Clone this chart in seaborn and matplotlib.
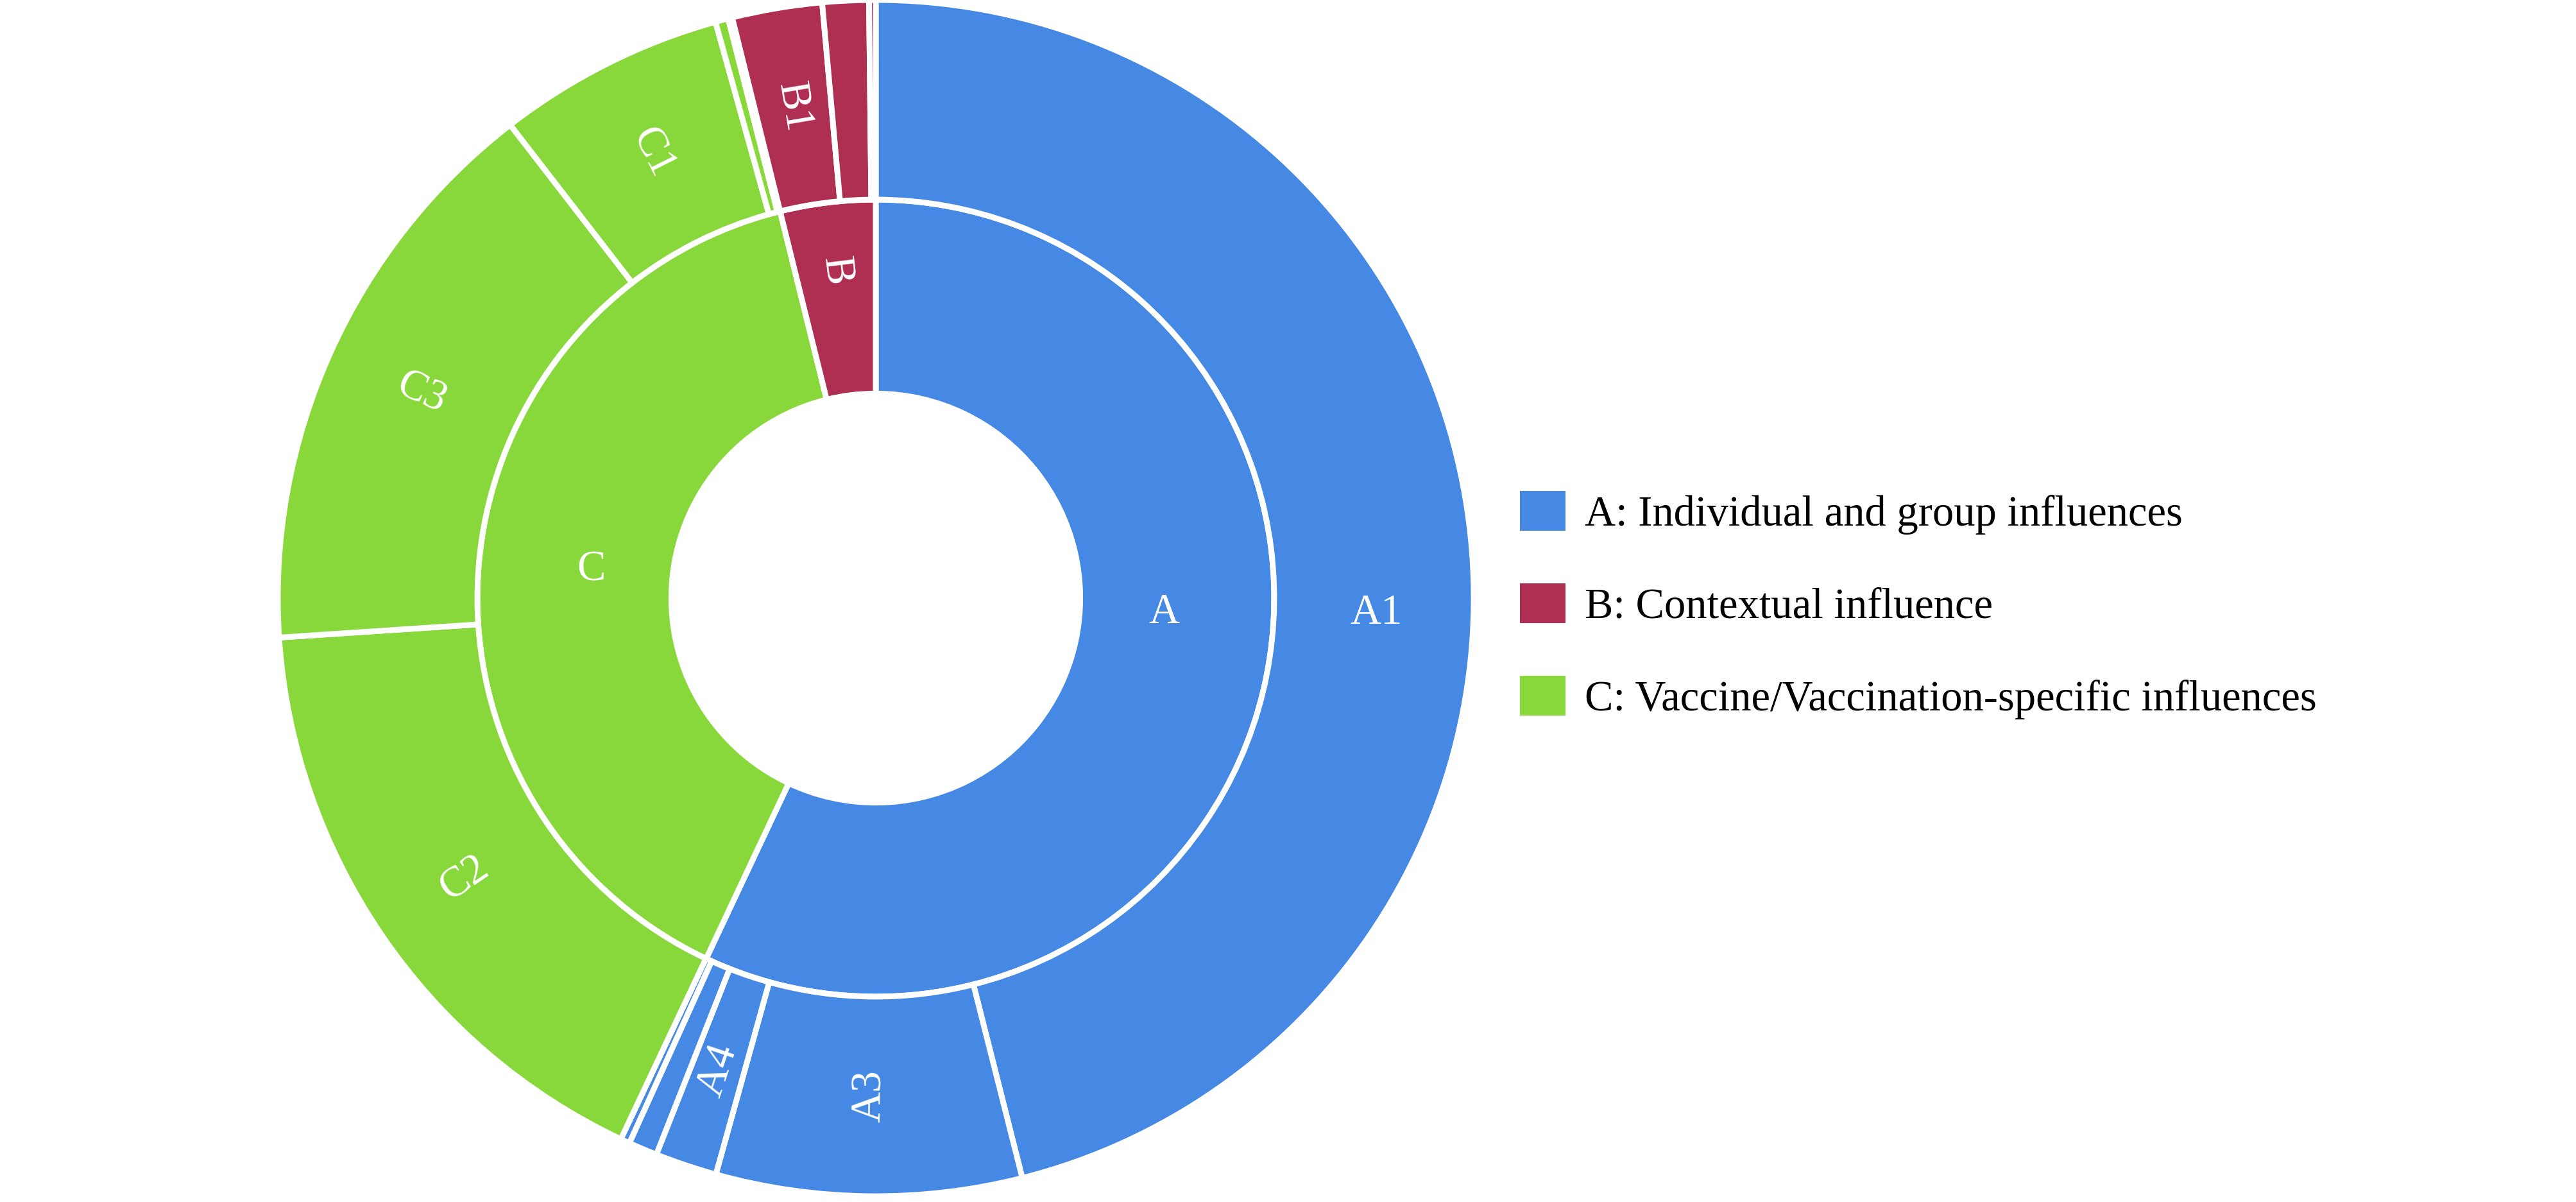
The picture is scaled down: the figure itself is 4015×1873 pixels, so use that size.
import numpy as np
import matplotlib
matplotlib.use("Agg")
import matplotlib.pyplot as plt
from matplotlib.patches import Patch
import seaborn as sns

# ---------------- data (% of total) ----------------
inner_labels = ["A", "C", "B"]
inner_values = [57.00, 39.14, 3.86]

outer_labels = ["A1", "A3", "A4", "A2", "A5",
                "C2", "C3", "C1", "C4", "C5",
                "B1", "B2", "B3"]
outer_parent = ["A", "A", "A", "A", "A",
                "C", "C", "C", "C", "C",
                "B", "B", "B"]
outer_values = [46.06, 8.25, 1.67, 0.78, 0.25,
                16.94, 15.58, 6.15, 0.35, 0.11,
                2.43, 1.25, 0.18]
outer_shown = ["A1", "A3", "A4", "C2", "C3", "C1", "B1"]

legend_keys = ["A", "B", "C"]
legend_labels = ["A: Individual and group influences",
                 "B: Contextual influence",
                 "C: Vaccine/Vaccination-specific influences"]

# ---------------- style ----------------
sns.set_theme(style="white")
plt.rcParams["font.family"] = ["Liberation Serif", "DejaVu Serif"]
palette = {"A": "#4589E5", "B": "#AF2F53", "C": "#88D83C"}

W, H, DPI = 4016, 1873, 200
fig = plt.figure(figsize=(W / DPI, H / DPI), dpi=DPI)
fig.patch.set_facecolor("white")

cx, cy, half = 1365, 932, 940          # pixel centre and half-size of the axes box
ax = fig.add_axes([(cx - half) / W, (H - cy - half) / H, 2 * half / W, 2 * half / H])

r_out, r_mid, r_in = 0.9915, 0.6606, 0.339
lw = 3.2
wp = dict(edgecolor="white", linewidth=lw)

inner_w, _ = ax.pie(inner_values, radius=r_mid, startangle=90, counterclock=False,
                    colors=[palette[k] for k in inner_labels],
                    wedgeprops=dict(width=r_mid - r_in, **wp))
outer_w, _ = ax.pie(outer_values, radius=r_out, startangle=90, counterclock=False,
                    colors=[palette[p] for p in outer_parent],
                    wedgeprops=dict(width=r_out - r_mid, **wp))
ax.set_xlim(-1, 1)
ax.set_ylim(-1, 1)
ax.set_aspect("equal")
ax.axis("off")

# label placement (horizontal labels for the wide slices, radial otherwise)
horizontal = {"A", "A1", "C"}
pos_override = {"A": (-2.9, 0.479), "A1": (-1.7, 0.830), "B": (None, 0.547)}
fs = 24


def put_label(wedge, text, radius):
    mid = (wedge.theta1 + wedge.theta2) / 2.0
    ang, rad = mid, radius
    if text in pos_override:
        a, r = pos_override[text]
        ang = a if a is not None else mid
        rad = r
    rot = 0.0
    if text not in horizontal:
        rot = ((mid + 180) % 360) - 180
        if rot > 90:
            rot -= 180
        elif rot < -90:
            rot += 180
    x = rad * np.cos(np.deg2rad(ang))
    y = rad * np.sin(np.deg2rad(ang))
    ax.text(x, y, text, color="white", fontsize=fs, ha="center", va="center",
            rotation=rot, rotation_mode="anchor")


for w, lab in zip(inner_w, inner_labels):
    put_label(w, lab, 0.474)
for w, lab in zip(outer_w, outer_labels):
    if lab in outer_shown:
        put_label(w, lab, (r_mid + r_out) / 2)

handles = [Patch(facecolor=palette[k], edgecolor="none") for k in legend_keys]
leg = fig.legend(handles, legend_labels, loc="upper left",
                 bbox_to_anchor=(2369 / W, 1 - 765 / H), frameon=False,
                 fontsize=fs, handlelength=1.06, handleheight=1.06,
                 handletextpad=0.45, labelspacing=1.14, borderpad=0, borderaxespad=0)
for t in leg.get_texts():
    t.set_color("black")

fig.savefig("out.png", dpi=DPI, facecolor="white")
